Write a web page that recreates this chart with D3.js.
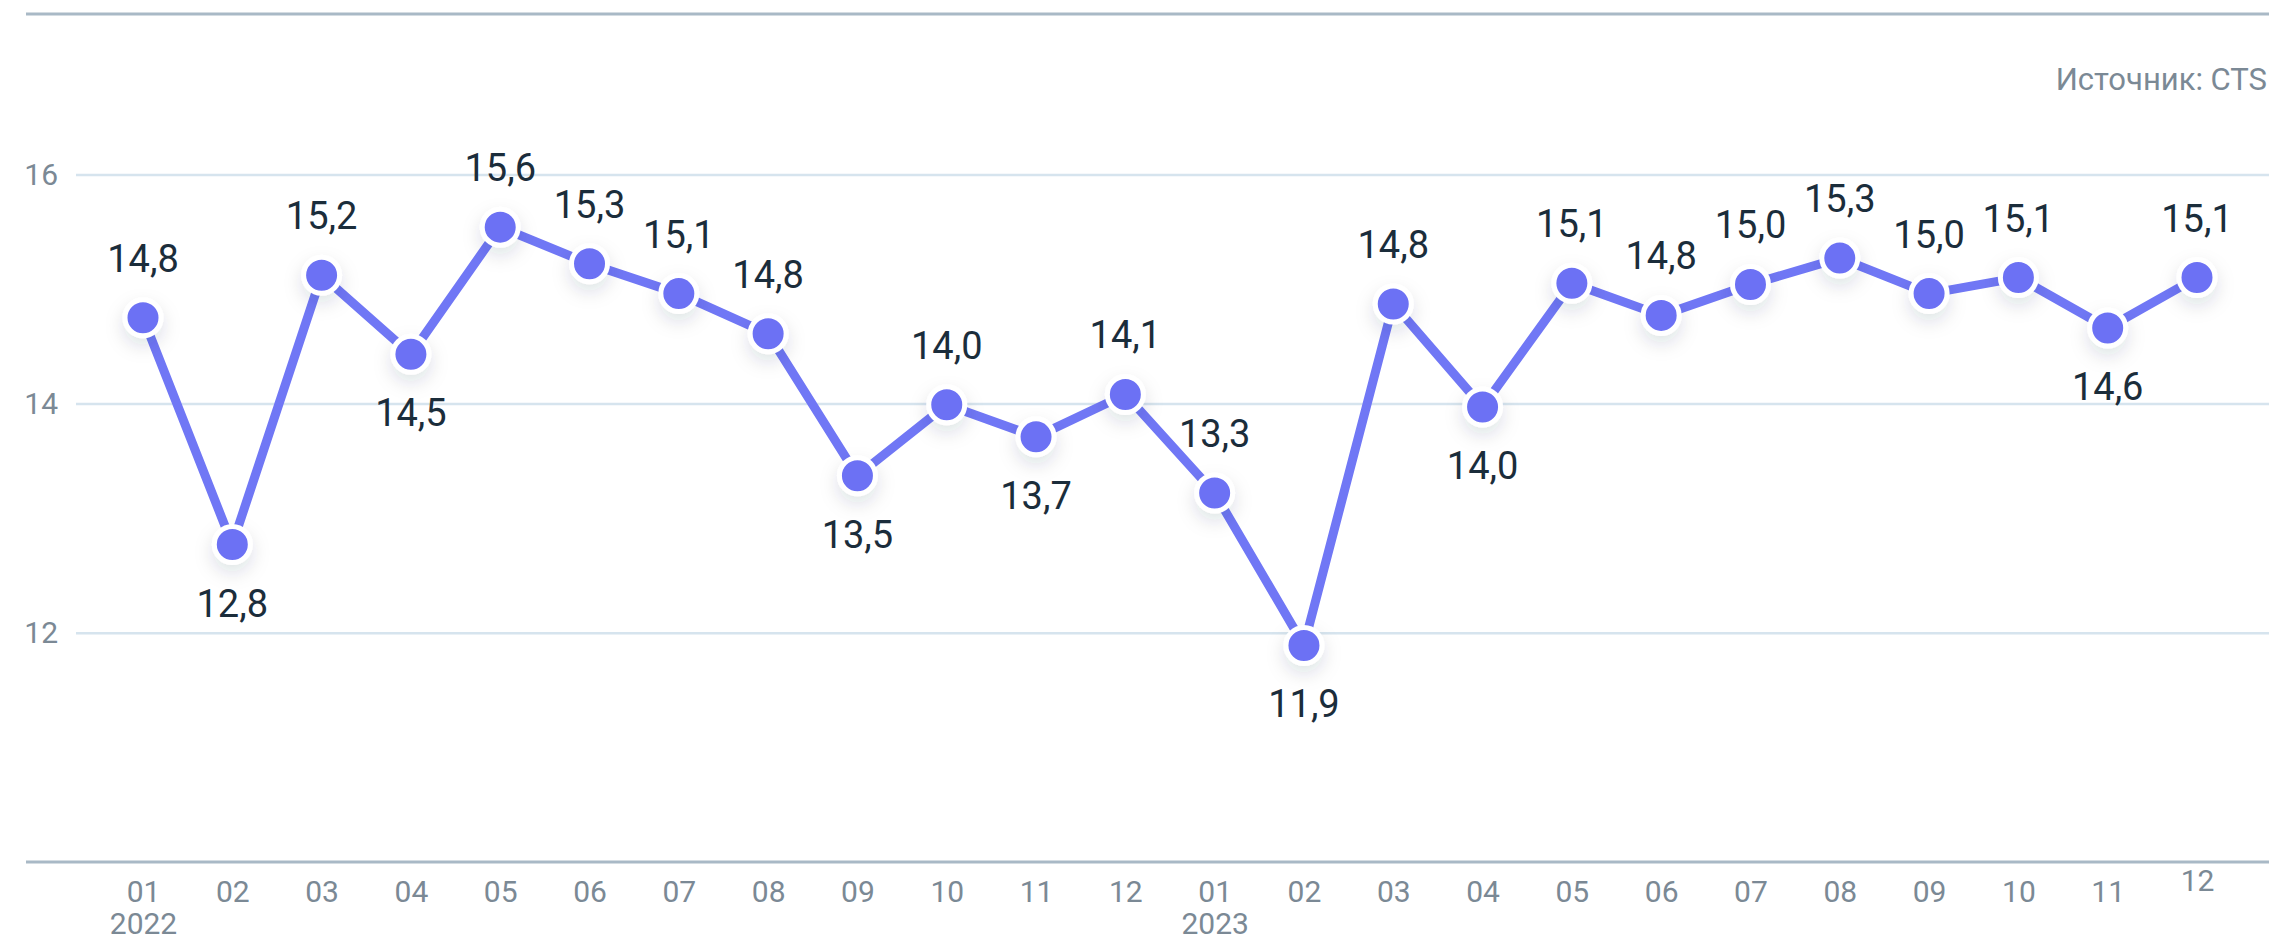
<!DOCTYPE html>
<html>
<head>
<meta charset="utf-8">
<script src="https://cdn.jsdelivr.net/npm/d3@7"></script>
<style>
  body { margin: 0; background: #fff; }
  svg { display: block; font-family: Roboto, "Noto Sans", sans-serif; }
</style>
</head>
<body>
<div id="chart"></div>
<script>
var months = ["01","02","03","04","05","06","07","08","09","10","11","12",
              "01","02","03","04","05","06","07","08","09","10","11","12"];
var years = ["2022","","","","","","","","","","","",
             "2023","","","","","","","","","","",""];
var values = [14.75, 12.77, 15.12, 14.43, 15.54, 15.22, 14.96, 14.61, 13.37, 13.99, 13.71, 14.08,
              13.22, 11.89, 14.87, 13.97, 15.05, 14.77, 15.04, 15.27, 14.96, 15.10, 14.66, 15.10];
var labels = ["14,8","12,8","15,2","14,5","15,6","15,3","15,1","14,8","13,5","14,0","13,7","14,1",
              "13,3","11,9","14,8","14,0","15,1","14,8","15,0","15,3","15,0","15,1","14,6","15,1"];
var below = [1, 3, 8, 10, 13, 15, 22];
var yTicks = [12, 14, 16];
var source = "Источник: CTS";

function draw() {
  var width = 2269,
    height = 941;

  var svg = d3.select("#chart").append("svg")
    .attr("width", width)
    .attr("height", height);

  var defs = svg.append("defs");
  var f = defs.append("filter").attr("id", "shadow")
    .attr("x", "-100%").attr("y", "-100%").attr("width", "300%").attr("height", "300%");
  f.append("feDropShadow")
    .attr("dx", 0).attr("dy", 8).attr("stdDeviation", 9)
    .attr("flood-color", "#1c2e3d").attr("flood-opacity", 0.13);

  var x = d3.scalePoint()
    .domain(d3.range(values.length))
    .range([143, 2197]);

  var y = d3.scaleLinear()
    .domain([10, 17.4])
    .range([862, 14]);

  // top frame line
  svg.append("line")
    .attr("x1", 26).attr("x2", width)
    .attr("y1", y(17.4)).attr("y2", y(17.4))
    .attr("stroke", "#a9b9c6").attr("stroke-width", 3);

  // grid + y labels
  var yAxis = svg.append("g")
    .attr("transform", "translate(76,0)")
    .call(d3.axisLeft(y).tickValues(yTicks).tickSize(-(width - 76)).tickPadding(18));
  yAxis.select(".domain").remove();
  yAxis.selectAll(".tick line").attr("stroke", "#d6e4ee").attr("stroke-width", 2.5);
  yAxis.selectAll(".tick text")
    .attr("fill", "#7b8995").attr("font-size", 30)
    .attr("font-family", "Roboto, sans-serif");

  // bottom axis line
  svg.append("line")
    .attr("x1", 26).attr("x2", width)
    .attr("y1", y(10)).attr("y2", y(10))
    .attr("stroke", "#a9b9c6").attr("stroke-width", 3);

  // x labels
  var xAxis = svg.append("g")
    .attr("transform", "translate(0," + y(10) + ")")
    .call(d3.axisBottom(x).tickSize(0).tickPadding(0).tickFormat(function (i) { return months[i]; }));
  xAxis.select(".domain").remove();
  xAxis.selectAll(".tick text")
    .attr("fill", "#7b8995").attr("font-size", 30)
    .attr("font-family", "Roboto, sans-serif")
    .attr("dy", null)
    .attr("y", function (i) { return i === values.length - 1 ? 29 : 40; });
  xAxis.selectAll(".tick").append("text")
    .attr("fill", "#7b8995").attr("font-size", 30)
    .attr("font-family", "Roboto, sans-serif")
    .attr("text-anchor", "middle")
    .attr("y", 72)
    .text(function (i) { return years[i]; });

  // source
  svg.append("text")
    .attr("x", 2267).attr("y", 90)
    .attr("text-anchor", "end")
    .attr("fill", "#7b8995").attr("font-size", 31)
    .text(source);

  var line = d3.line()
    .x(function (d, i) { return x(i); })
    .y(function (d) { return y(d); });

  svg.append("path")
    .datum(values)
    .attr("fill", "none")
    .attr("stroke", "#7077f5")
    .attr("stroke-width", 9)
    .attr("stroke-linejoin", "round")
    .attr("d", line);

  svg.append("g").selectAll("circle")
    .data(values)
    .enter().append("circle")
    .attr("cx", function (d, i) { return x(i); })
    .attr("cy", function (d) { return y(d); })
    .attr("r", 18)
    .attr("fill", "#6c71f4")
    .attr("stroke", "#fff")
    .attr("stroke-width", 5)
    .attr("filter", "url(#shadow)");

  svg.append("g").selectAll("text")
    .data(values)
    .enter().append("text")
    .attr("x", function (d, i) { return x(i); })
    .attr("y", function (d, i) { return below.indexOf(i) >= 0 ? y(d) + 72 : y(d) - 46; })
    .attr("text-anchor", "middle")
    .attr("fill", "#1b2d3b")
    .attr("font-size", 38)
    .text(function (d, i) { return labels[i]; });
}

draw();
</script>
</body>
</html>
